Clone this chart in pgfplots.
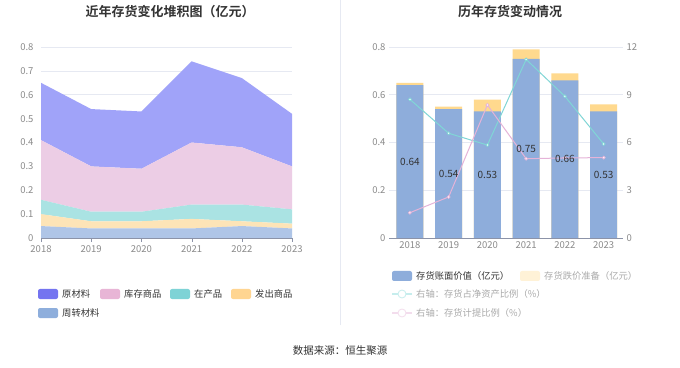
\documentclass[border=0pt]{standalone}
\usepackage{fontspec}
\setmainfont{Noto Sans CJK SC}[BoldFont={Noto Sans CJK SC Bold}]
\usepackage{pgfplots}
\pgfplotsset{compat=1.18}
\usepackage{pgfplotstable}

\definecolor{tickgray}{HTML}{8A8A8A}
\definecolor{axisgray}{HTML}{8C93A8}
\definecolor{gridc}{HTML}{E6E9F2}
\definecolor{cYcl}{HTML}{A0A3F9}
\definecolor{cKc}{HTML}{ECCDE5}
\definecolor{cZc}{HTML}{AAE3E3}
\definecolor{cFc}{HTML}{FDE4B7}
\definecolor{cZz}{HTML}{AFC5E7}
\definecolor{lYcl}{HTML}{7474F0}
\definecolor{lKc}{HTML}{E8B5D6}
\definecolor{lZc}{HTML}{7ED3D6}
\definecolor{lFc}{HTML}{FFD591}
\definecolor{lZz}{HTML}{8EAEDC}
\definecolor{barBook}{HTML}{8EADDB}
\definecolor{barRes}{HTML}{FFD98E}
\definecolor{lineCyan}{HTML}{80D6D6}
\definecolor{linePink}{HTML}{E5B3D8}
\definecolor{txtdark}{HTML}{333333}
\definecolor{txtlight}{HTML}{AAAAAA}

\pgfplotstableread{
year zz fc zc kc ycl
2018 0.05 0.05 0.06 0.25 0.24
2019 0.04 0.03 0.04 0.19 0.24
2020 0.04 0.03 0.04 0.18 0.24
2021 0.04 0.04 0.06 0.26 0.34
2022 0.05 0.02 0.07 0.24 0.29
2023 0.04 0.02 0.06 0.18 0.22
}\stacktab

\pgfplotstableread{
year book res ratio prov
2018 0.64 0.01 8.71 1.59
2019 0.54 0.01 6.58 2.58
2020 0.53 0.05 5.84 8.36
2021 0.75 0.04 11.22 4.98
2022 0.66 0.03 8.90 5.03
2023 0.53 0.03 5.91 5.05
}\bartab

\pgfplotsset{
  base/.style={
    scale only axis,
    /pgf/number format/assume math mode=true,
    tick label style={font=\fontsize{9.5}{11}\selectfont, text=tickgray},
    ytick style={draw=none},
    xtick={2018,2019,2020,2021,2022,2023},
    xticklabels={2018,2019,2020,2021,2022,2023},
  }
}

\begin{document}
\begin{tikzpicture}[x=1pt,y=1pt]
\fill[white] (0,0) rectangle (680,367);
\path[use as bounding box] (0,0) rectangle (680,367);

% titles
\node[font=\fontsize{13}{15}\selectfont\bfseries, text=txtdark] at (170,355) {近年存货变化堆积图（亿元）};
\node[font=\fontsize{13}{15}\selectfont\bfseries, text=txtdark] at (510,355) {历年存货变动情况};
\draw[draw=gridc, line width=0.8pt] (340,42) -- (340,367);

% ---------- left chart ----------
\begin{axis}[base,
  at={(41pt,129pt)}, anchor=south west,
  width=251pt, height=191pt,
  xmin=2018, xmax=2023, ymin=0, ymax=0.8,
  ytick={0,0.1,...,0.8},
  yticklabels={0,0.1,0.2,0.3,0.4,0.5,0.6,0.7,0.8},
  axis x line*=bottom, axis y line*=left,
  x axis line style={draw=axisgray},
  y axis line style={draw=none},
  xtick style={draw=axisgray},
  tick align=outside, major tick length=4pt,
  ymajorgrids, grid style={draw=gridc, line width=0.6pt},
  stack plots=y, axis on top=false,
]
\addplot[fill=cZz, draw=none] table[x=year, y=zz] {\stacktab} \closedcycle;
\addplot[fill=cFc, draw=none] table[x=year, y=fc] {\stacktab} \closedcycle;
\addplot[fill=cZc, draw=none] table[x=year, y=zc] {\stacktab} \closedcycle;
\addplot[fill=cKc, draw=none] table[x=year, y=kc] {\stacktab} \closedcycle;
\addplot[fill=cYcl, draw=none] table[x=year, y=ycl] {\stacktab} \closedcycle;
\end{axis}

% ---------- right chart: bars ----------
\begin{axis}[base,
  at={(389pt,129pt)}, anchor=south west,
  width=234pt, height=191pt,
  xmin=2017.46, xmax=2023.5, ymin=0, ymax=0.8,
  ytick={0,0.2,0.4,0.6,0.8},
  yticklabels={0,0.2,0.4,0.6,0.8},
  axis x line*=bottom, axis y line*=left,
  x axis line style={draw=axisgray},
  y axis line style={draw=none},
  xtick style={draw=none},
  ymajorgrids, grid style={draw=gridc, line width=0.6pt},
]
\addplot[ybar, bar width=27pt, bar shift=0pt, fill=barRes, draw=none]
  table[x=year, y expr=\thisrow{book}+\thisrow{res}] {\bartab};
\addplot[ybar, bar width=27pt, bar shift=0pt, fill=barBook, draw=none]
  table[x=year, y=book] {\bartab};
\end{axis}

% ---------- right chart: lines and bar labels ----------
\begin{axis}[base,
  at={(389pt,129pt)}, anchor=south west,
  width=234pt, height=191pt,
  xmin=2017.46, xmax=2023.5, ymin=0, ymax=12,
  ytick={0,3,6,9,12},
  axis x line=none, axis y line*=right,
  y axis line style={draw=none},
  yticklabel style={anchor=west},
  clip=false,
]
\addplot[color=lineCyan, line width=1pt, mark=*, mark size=1.5pt, mark options={fill=white, draw=lineCyan, line width=0.7pt}]
  table[x=year, y=ratio] {\bartab};
\addplot[color=linePink, line width=1pt, mark=*, mark size=1.5pt, mark options={fill=white, draw=linePink, line width=0.7pt}]
  table[x=year, y=prov] {\bartab};
% bar value labels (book value / 2 on the 0-0.8 scale = book*7.5 on the 0-12 scale)
\addplot[draw=none, mark=none, nodes near coords, point meta=explicit symbolic,
  nodes near coords style={anchor=center, font=\fontsize{10}{11}\selectfont, text=txtdark}]
  table[x=year, y expr=\thisrow{book}*7.5, meta=book] {\bartab};
\end{axis}

% ---------- legends ----------
\begin{scope}[every node/.style={font=\fontsize{9.3}{11}\selectfont, anchor=west, inner sep=0pt}]
% left
\fill[lYcl, rounded corners=2pt] (38,68) rectangle (58,78); \node[text=txtdark] at (62,73) {原材料};
\fill[lKc, rounded corners=2pt] (100,68) rectangle (120,78); \node[text=txtdark] at (124,73) {库存商品};
\fill[lZc, rounded corners=2pt] (170,68) rectangle (190,78); \node[text=txtdark] at (194,73) {在产品};
\fill[lFc, rounded corners=2pt] (231,68) rectangle (251,78); \node[text=txtdark] at (255,73) {发出商品};
\fill[lZz, rounded corners=2pt] (38,49) rectangle (58,59); \node[text=txtdark] at (62,54) {周转材料};
% right
\fill[barBook, rounded corners=2pt] (392,86) rectangle (412,96); \node[text=txtdark] at (416,91) {存货账面价值（亿元）};
\fill[barRes!35, rounded corners=2pt] (520,86) rectangle (540,96); \node[text=txtlight] at (544,91) {存货跌价准备（亿元）};
\draw[lineCyan!45, line width=1.2pt] (392,73) -- (412,73);
\draw[lineCyan!45, fill=white, line width=0.8pt] (402,73) circle (4pt);
\node[text=txtlight] at (416,73) {右轴：存货占净资产比例（\%）};
\draw[linePink!45, line width=1.2pt] (392,54) -- (412,54);
\draw[linePink!45, fill=white, line width=0.8pt] (402,54) circle (4pt);
\node[text=txtlight] at (416,54) {右轴：存货计提比例（\%）};
\end{scope}

\node[font=\fontsize{10.5}{12}\selectfont, text=txtdark] at (340,16) {数据来源：恒生聚源};
\end{tikzpicture}
\end{document}
